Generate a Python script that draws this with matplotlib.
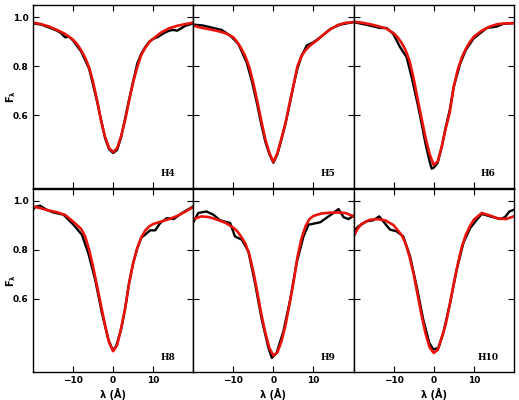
import matplotlib
matplotlib.use("Agg")
import matplotlib.pyplot as plt
import numpy as np

# ---- data (wavelength offset in A, normalised flux) ----
h4_obs_x = [-20, -18, -16, -14, -13, -12, -11, -10, -8, -6, -4, -2, -1, 0, 1, 2, 4, 6, 7, 8, 9, 10, 11, 12, 13, 14, 15, 16, 17, 18, 19, 20]
h4_obs_y = [0.975, 0.970, 0.958, 0.945, 0.935, 0.918, 0.920, 0.905, 0.86, 0.79, 0.655, 0.505, 0.46, 0.445, 0.458, 0.51, 0.665, 0.81, 0.85, 0.878, 0.9, 0.912, 0.918, 0.928, 0.938, 0.945, 0.948, 0.945, 0.955, 0.965, 0.970, 0.975]
h4_mod_x = [-20, -18, -16, -14, -12, -10, -9, -8, -7, -6, -5, -4, -3, -2, -1, 0, 1, 2, 3, 4, 5, 6, 7, 8, 9, 10, 12, 14, 16, 18, 20]
h4_mod_y = [0.978, 0.972, 0.962, 0.948, 0.932, 0.908, 0.89, 0.865, 0.835, 0.795, 0.735, 0.66, 0.575, 0.51, 0.465, 0.449, 0.465, 0.515, 0.58, 0.66, 0.735, 0.795, 0.845, 0.875, 0.898, 0.912, 0.938, 0.955, 0.965, 0.972, 0.978]

h5_obs_x = [-20, -17.5, -15, -12.9, -10.8, -8.75, -6.7, -5.4, -4, -3, -2, -1, 0, 1, 2, 3, 4, 5, 6, 7, 8.3, 10, 11.7, 14.2, 16.7, 20]
h5_obs_y = [0.97, 0.966, 0.956, 0.948, 0.925, 0.891, 0.816, 0.741, 0.64, 0.56, 0.49, 0.44, 0.405, 0.44, 0.5, 0.565, 0.64, 0.72, 0.79, 0.84, 0.884, 0.898, 0.918, 0.952, 0.97, 0.98]
h5_mod_x = [-20, -18, -16, -14, -12, -10, -9, -8, -7, -6, -5, -4, -3, -2, -1, 0, 1, 2, 3, 4, 5, 6, 7, 8, 9, 10, 11, 12, 14, 16, 18, 20]
h5_mod_y = [0.966, 0.957, 0.951, 0.944, 0.935, 0.918, 0.898, 0.872, 0.84, 0.795, 0.73, 0.655, 0.575, 0.5, 0.445, 0.408, 0.445, 0.505, 0.565, 0.645, 0.72, 0.8, 0.842, 0.865, 0.882, 0.895, 0.907, 0.922, 0.948, 0.968, 0.977, 0.98]

h6_obs_x = [-20, -16.75, -13.4, -11.75, -10.1, -8.4, -6.75, -5.5, -4, -3, -2, -1, -0.5, 0, 1, 2, 3, 4, 5, 6.6, 8, 9.9, 13.25, 15.75, 17.4, 20]
h6_obs_y = [0.98, 0.969, 0.956, 0.956, 0.932, 0.878, 0.837, 0.755, 0.645, 0.565, 0.48, 0.41, 0.381, 0.385, 0.405, 0.47, 0.55, 0.62, 0.715, 0.81, 0.865, 0.912, 0.956, 0.962, 0.973, 0.976]
h6_mod_x = [-20, -18, -16, -14, -12, -10, -9, -8, -7, -6, -5, -4, -3, -2, -1, 0, 1, 2, 3, 4, 5, 6, 7, 8, 9, 10, 12, 14, 16, 18, 20]
h6_mod_y = [0.982, 0.978, 0.972, 0.964, 0.955, 0.935, 0.918, 0.895, 0.865, 0.82, 0.75, 0.665, 0.585, 0.505, 0.44, 0.396, 0.41, 0.47, 0.545, 0.61, 0.715, 0.785, 0.835, 0.87, 0.898, 0.92, 0.945, 0.962, 0.972, 0.975, 0.976]

h8_obs_x = [-20, -19.5, -18.25, -16.6, -14.9, -12.4, -9.9, -7.8, -6.2, -4.5, -2.8, -1.2, -0.1, 0.75, 2, 3, 4, 5, 6, 7, 9.25, 10.5, 11.75, 13.4, 15.1, 17.2, 20]
h8_obs_y = [0.963, 0.974, 0.98, 0.963, 0.952, 0.943, 0.902, 0.861, 0.786, 0.678, 0.541, 0.433, 0.389, 0.405, 0.475, 0.56, 0.665, 0.745, 0.805, 0.848, 0.879, 0.879, 0.909, 0.929, 0.925, 0.95, 0.977]
h8_mod_x = [-20, -18, -16, -14, -12, -10, -9, -8, -7, -6, -5, -4, -3, -2, -1, 0, 1, 2, 3, 4, 5, 6, 7, 8, 9, 10, 12, 14, 16, 18, 20]
h8_mod_y = [0.977, 0.969, 0.96, 0.953, 0.942, 0.915, 0.9, 0.885, 0.855, 0.8, 0.73, 0.65, 0.57, 0.49, 0.42, 0.385, 0.41, 0.48, 0.56, 0.665, 0.745, 0.805, 0.85, 0.878, 0.895, 0.905, 0.915, 0.925, 0.938, 0.955, 0.974]

h9_obs_x = [-20, -18.75, -16.7, -15, -13.3, -10.8, -9.6, -7.9, -6.25, -4.6, -2.9, -1.25, -0.4, 0.8, 2.5, 4.2, 5.8, 7.5, 8.75, 11.7, 13.75, 15, 16.25, 17.5, 18.75, 20]
h9_obs_y = [0.912, 0.95, 0.956, 0.943, 0.92, 0.909, 0.854, 0.841, 0.793, 0.664, 0.514, 0.399, 0.358, 0.378, 0.467, 0.596, 0.746, 0.854, 0.902, 0.912, 0.936, 0.95, 0.966, 0.933, 0.925, 0.939]
h9_mod_x = [-20, -18, -16, -14, -12, -10, -9, -8, -7, -6, -5, -4, -3, -2, -1, 0, 1, 2, 3, 4, 5, 6, 7, 8, 9, 10, 12, 14, 16, 18, 20]
h9_mod_y = [0.925, 0.936, 0.933, 0.922, 0.91, 0.89, 0.875, 0.852, 0.825, 0.78, 0.71, 0.625, 0.535, 0.46, 0.398, 0.367, 0.38, 0.425, 0.49, 0.575, 0.665, 0.77, 0.845, 0.895, 0.925, 0.938, 0.948, 0.951, 0.952, 0.95, 0.936]

h10_obs_x = [-20, -18.8, -16.75, -15.1, -13.6, -12.6, -10.9, -9.25, -7.6, -5.9, -4.25, -2.6, -1.1, -0.1, 1.2, 2.4, 4.1, 5.75, 7.4, 9.1, 10.75, 12, 14.1, 16.6, 17.8, 18.9, 20]
h10_obs_y = [0.875, 0.895, 0.916, 0.92, 0.936, 0.916, 0.882, 0.875, 0.854, 0.773, 0.65, 0.514, 0.419, 0.392, 0.399, 0.46, 0.582, 0.718, 0.827, 0.888, 0.922, 0.946, 0.936, 0.925, 0.933, 0.956, 0.963]
h10_mod_x = [-20, -19, -18, -16, -14, -12, -10, -9, -8, -7, -6, -5, -4, -3, -2, -1, 0, 1, 2, 3, 4, 5, 6, 7, 8, 9, 10, 12, 14, 16, 18, 20]
h10_mod_y = [0.854, 0.885, 0.905, 0.922, 0.925, 0.919, 0.9, 0.88, 0.86, 0.825, 0.77, 0.7, 0.615, 0.53, 0.455, 0.4, 0.378, 0.39, 0.44, 0.495, 0.575, 0.66, 0.74, 0.81, 0.86, 0.895, 0.922, 0.95, 0.94, 0.928, 0.925, 0.936]

line_names = ["H4", "H5", "H6", "H8", "H9", "H10"]
obs = [(h4_obs_x, h4_obs_y), (h5_obs_x, h5_obs_y), (h6_obs_x, h6_obs_y),
       (h8_obs_x, h8_obs_y), (h9_obs_x, h9_obs_y), (h10_obs_x, h10_obs_y)]
mod = [(h4_mod_x, h4_mod_y), (h5_mod_x, h5_mod_y), (h6_mod_x, h6_mod_y),
       (h8_mod_x, h8_mod_y), (h9_mod_x, h9_mod_y), (h10_mod_x, h10_mod_y)]

xticks = [-10, 0, 10]
yticks = [0.6, 0.8, 1.0]

fig, axes = plt.subplots(2, 3, figsize=(5.19, 4.0), dpi=100, sharex=True, sharey=True)
fig.subplots_adjust(left=0.0636, right=0.990, top=0.9875, bottom=0.07, wspace=0, hspace=0)

for i, ax in enumerate(axes.flat):
    ax.plot(obs[i][0], obs[i][1], color="black", lw=1.7)
    ax.plot(mod[i][0], mod[i][1], color="#e8140c", lw=1.9)
    ax.set_xlim(-20, 20)
    ax.set_ylim(0.30, 1.05)
    ax.set_xticks(xticks)
    ax.set_yticks(yticks)
    ax.tick_params(direction="in", top=True, right=True, length=4, width=0.8,
                   labelsize=6.5, pad=3)
    for lab in ax.get_xticklabels() + ax.get_yticklabels():
        lab.set_fontweight("bold")
    for s in ax.spines.values():
        s.set_linewidth(1.0)
    ax.text(0.84, 0.08, line_names[i], transform=ax.transAxes, ha="center",
            va="center", fontsize=6.5, fontweight="bold", family="DejaVu Serif")
    row, col = divmod(i, 3)
    if col == 0:
        ax.set_ylabel(r"$\mathbf{F_\lambda}$", fontsize=7, va="center")
        ax.yaxis.set_label_coords(-0.135, 0.5)
    if row == 1:
        ax.set_xlabel("λ (Å)", fontsize=7, fontweight="bold", labelpad=2)

fig.savefig("out.png", dpi=100)
